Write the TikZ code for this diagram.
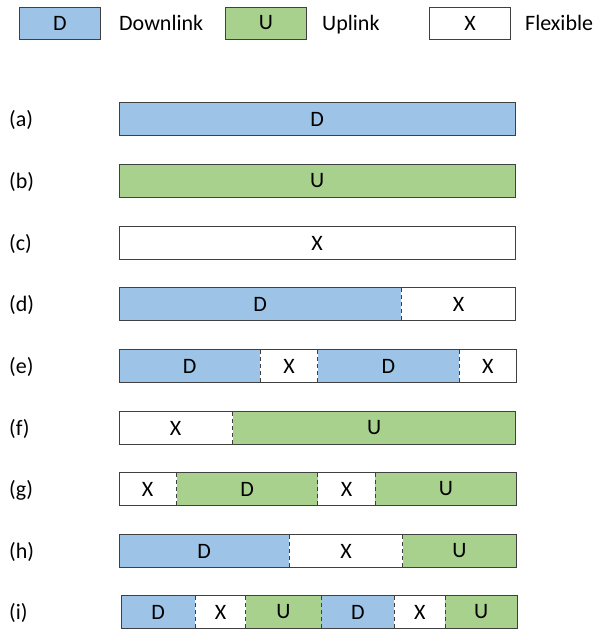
\documentclass[tikz,border=0pt]{standalone}
\usepackage{fontspec}
\setmainfont{Carlito}
\usetikzlibrary{positioning}
\definecolor{dlblue}{HTML}{9DC3E6}
\definecolor{ulgreen}{HTML}{A9D18E}
\definecolor{edge}{HTML}{404040}
\tikzset{
  seg/.style={inner sep=0pt, minimum height=32pt, font=\fontsize{22}{26}\selectfont},
  dl/.style={seg, fill=dlblue},
  ul/.style={seg, fill=ulgreen},
  fx/.style={seg, fill=white},
  key/.style={seg, draw=edge, line width=1pt, minimum width=81pt, minimum height=32pt},
  frame/.style={draw=edge, line width=1pt},
  sep/.style={draw=edge, line width=0.9pt, dash pattern=on 4pt off 3pt},
  lbl/.style={inner sep=0pt, text height=14pt, text depth=0pt, font=\fontsize{22}{26}\selectfont},
}
\begin{document}
\begin{tikzpicture}[x=1pt, y=-1pt]
\useasboundingbox (0,0) rectangle (604,630);

% legend
\node (kd) [key, fill=dlblue, anchor=west] at (19,23) {D};
\node (kdt) [lbl, right=18pt of kd] {Downlink};
\node (ku) [key, fill=ulgreen, anchor=west] at (225,23) {U};
\node (kut) [lbl, right=15pt of ku] {Uplink};
\node (kx) [key, fill=white, anchor=west] at (429,23) {X};
\node (kxt) [lbl, right=14pt of kx] {Flexible};

% (a)
\node (la) [lbl, anchor=west] at (9,119) {(a)};
\node (a1) [dl, minimum width=396pt, anchor=west] at (119,119) {D};
\draw[frame] (a1.north west) rectangle (a1.south east);

% (b)
\node (lb) [lbl, anchor=west] at (9,181) {(b)};
\node (b1) [ul, minimum width=396pt, anchor=west] at (119,181) {U};
\draw[frame] (b1.north west) rectangle (b1.south east);

% (c)
\node (lc) [lbl, anchor=west] at (9,243) {(c)};
\node (c1) [fx, minimum width=396pt, anchor=west] at (119,243) {X};
\draw[frame] (c1.north west) rectangle (c1.south east);

% (d)
\node (ld) [lbl, anchor=west] at (9,304) {(d)};
\node (d1) [dl, minimum width=282pt, anchor=west] at (119,304) {D};
\node (d2) [fx, minimum width=114pt, right=0pt of d1] {X};
\draw[frame] (d1.north west) rectangle (d2.south east);
\draw[sep] (d1.north east) -- (d1.south east);

% (e)
\node (le) [lbl, anchor=west] at (9,366) {(e)};
\node (e1) [dl, minimum width=141pt, anchor=west] at (119,366) {D};
\node (e2) [fx, minimum width=57pt, right=0pt of e1] {X};
\node (e3) [dl, minimum width=141pt, right=0pt of e2] {D};
\node (e4) [fx, minimum width=57pt, right=0pt of e3] {X};
\draw[frame] (e1.north west) rectangle (e4.south east);
\foreach \s in {e1,e2,e3}
  \draw[sep] (\s.north east) -- (\s.south east);

% (f)
\node (lf) [lbl, anchor=west] at (9,428) {(f)};
\node (f1) [fx, minimum width=113pt, anchor=west] at (119,428) {X};
\node (f2) [ul, minimum width=283pt, right=0pt of f1] {U};
\draw[frame] (f1.north west) rectangle (f2.south east);
\draw[sep] (f1.north east) -- (f1.south east);

% (g)
\node (lg) [lbl, anchor=west] at (9,489) {(g)};
\node (g1) [fx, minimum width=57pt, anchor=west] at (119,489) {X};
\node (g2) [ul, minimum width=141pt, right=0pt of g1] {D};
\node (g3) [fx, minimum width=57pt, right=0pt of g2] {X};
\node (g4) [ul, minimum width=141pt, right=0pt of g3] {U};
\draw[frame] (g1.north west) rectangle (g4.south east);
\foreach \s in {g1,g2,g3}
  \draw[sep] (\s.north east) -- (\s.south east);

% (h)
\node (lh) [lbl, anchor=west] at (9,551) {(h)};
\node (h1) [dl, minimum width=170pt, anchor=west] at (119,551) {D};
\node (h2) [fx, minimum width=113pt, right=0pt of h1] {X};
\node (h3) [ul, minimum width=113pt, right=0pt of h2] {U};
\draw[frame] (h1.north west) rectangle (h3.south east);
\foreach \s in {h1,h2}
  \draw[sep] (\s.north east) -- (\s.south east);

% (i)
\node (li) [lbl, anchor=west] at (9,612) {(i)};
\node (i1) [dl, minimum width=74pt, anchor=west] at (121,612) {D};
\node (i2) [fx, minimum width=50pt, right=0pt of i1] {X};
\node (i3) [ul, minimum width=75pt, right=0pt of i2] {U};
\node (i4) [dl, minimum width=73pt, right=0pt of i3] {D};
\node (i5) [fx, minimum width=50pt, right=0pt of i4] {X};
\node (i6) [ul, minimum width=72pt, right=0pt of i5] {U};
\draw[frame] (i1.north west) rectangle (i6.south east);
\foreach \s in {i1,i2,i3,i4,i5}
  \draw[sep] (\s.north east) -- (\s.south east);
\end{tikzpicture}
\end{document}
